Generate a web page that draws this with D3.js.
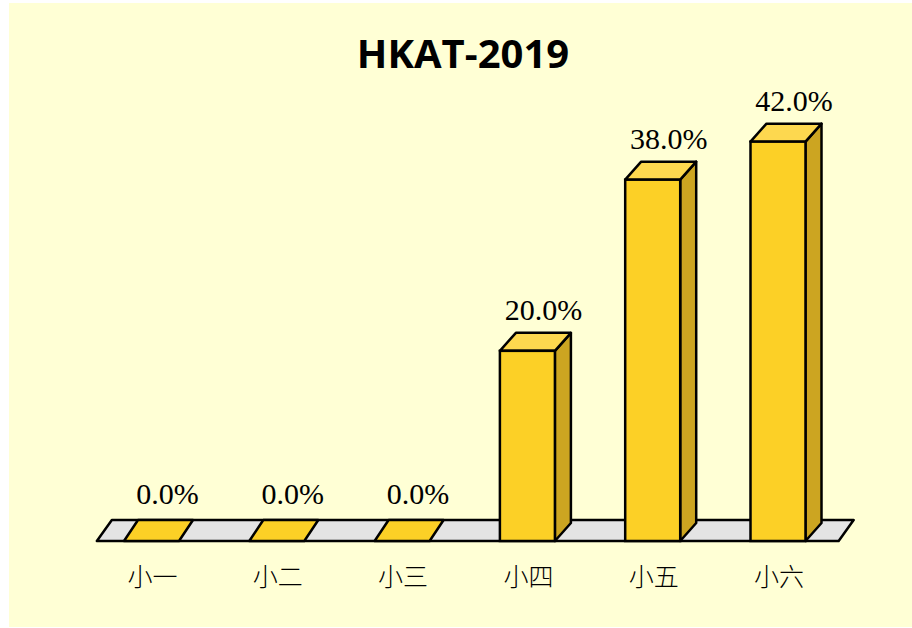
<!doctype html>
<html>
<head>
<meta charset="utf-8">
<script src="https://cdn.jsdelivr.net/npm/d3@7"></script>
<style>
  body { margin: 0; background: #fff; }
</style>
</head>
<body>
<svg width="912" height="628"></svg>
<script>
var categories = ["小一", "小二", "小三", "小四", "小五", "小六"];
var values = [0, 0, 0, 20, 38, 42];
var title = "HKAT-2019";

var svg = d3.select("svg");

// depth of the fake 3d boxes
var dx = 16, dy = 18;
var sw = 2.5;

svg.append("rect")
   .attr("x", 9).attr("y", 3)
   .attr("width", 903).attr("height", 624)
   .attr("fill", "#ffffd5");

svg.append("text")
   .attr("x", 463)
   .attr("y", 68)
   .attr("text-anchor", "middle")
   .style("font-family", "'Open Sans', sans-serif")
   .style("font-weight", "bold")
   .style("font-size", "40px")
   .attr("fill", "#000")
   .text(title);

var x = d3.scaleBand()
    .domain(categories)
    .range([88.85, 840.65])
    .paddingInner(0.561)
    .paddingOuter(0.2805);

var y = d3.scaleLinear()
    .domain([0, 50])
    .range([541, 65.6]);

var bw = x.bandwidth();
var base = y(0);

// floor
var r = x.range();
var fl = r[0] + 8, fr = r[1] - 2, fdx = 15, fdy = 21;
svg.append("path")
   .attr("d", "M" + fl + "," + base + "L" + fr + "," + base +
              "L" + (fr + fdx) + "," + (base - fdy) + "L" + (fl + fdx) + "," + (base - fdy) + "Z")
   .attr("fill", "#e4e4e4")
   .attr("stroke", "#000")
   .attr("stroke-width", sw)
   .attr("stroke-linejoin", "round");

var bars = svg.selectAll(".bar")
    .data(values)
    .enter().append("g")
    .attr("class", "bar");

function x0(d, i) { return x(categories[i]); }

// side
bars.filter(function(d) { return d > 0; })
    .append("path")
    .attr("d", function(d) {
        var l = x(categories[values.indexOf(d)]) + bw, t = y(d);
        return "M" + l + "," + base + "L" + l + "," + t + "L" + (l + dx) + "," + (t - dy) +
               "L" + (l + dx) + "," + (base - dy) + "Z";
    })
    .attr("fill", "#cca521")
    .attr("stroke", "#000").attr("stroke-width", sw).attr("stroke-linejoin", "round");

// top (zero bars lie flat on the floor and take its depth)
bars.append("path")
    .attr("d", function(d, i) {
        var l = x0(d, i), t = y(d);
        var ex = d > 0 ? dx : 14, ey = d > 0 ? dy : fdy;
        return "M" + l + "," + t + "L" + (l + bw) + "," + t + "L" + (l + bw + ex) + "," + (t - ey) +
               "L" + (l + ex) + "," + (t - ey) + "Z";
    })
    .attr("fill", function(d) { return d > 0 ? "#fdd84f" : "#fcd026"; })
    .attr("stroke", "#000").attr("stroke-width", sw).attr("stroke-linejoin", "round");

// front
bars.filter(function(d) { return d > 0; })
    .append("rect")
    .attr("x", function(d) { return x(categories[values.indexOf(d)]); })
    .attr("y", function(d) { return y(d); })
    .attr("width", bw)
    .attr("height", function(d) { return base - y(d); })
    .attr("fill", "#fcd026")
    .attr("stroke", "#000").attr("stroke-width", sw);

// value labels
svg.selectAll(".val")
   .data(values)
   .enter().append("text")
   .attr("class", "val")
   .attr("x", function(d, i) { return x(categories[i]) + bw / 2 + dx; })
   .attr("y", function(d) { return y(d) - (d > 0 ? dy + 13 : 37); })
   .attr("text-anchor", "middle")
   .attr("font-family", "Liberation Serif")
   .attr("font-size", 30)
   .attr("fill", "#000")
   .text(function(d) { return d.toFixed(1) + "%"; });

// category labels
svg.selectAll(".cat")
   .data(categories)
   .enter().append("text")
   .attr("class", "cat")
   .attr("x", function(d) { return x(d) + bw / 2 + 1; })
   .attr("y", 586)
   .attr("text-anchor", "middle")
   .style("font-family", "'Noto Sans CJK TC', sans-serif")
   .style("font-weight", 300)
   .style("font-size", "25px")
   .attr("fill", "#000")
   .text(function(d) { return d; });
</script>
</body>
</html>
